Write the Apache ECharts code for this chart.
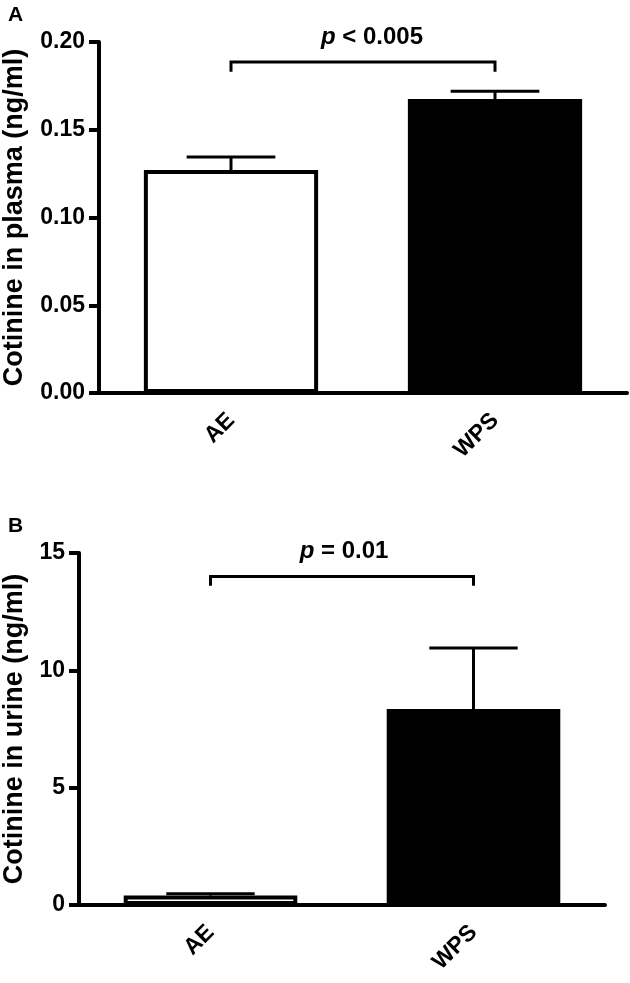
<!DOCTYPE html>
<html>
<head>
<meta charset="utf-8">
<script src="https://cdn.jsdelivr.net/npm/echarts@6/dist/echarts.min.js"></script>
<style>
  html, body { margin: 0; padding: 0; background: #fff; }
  #chart { width: 630px; height: 983px; }
</style>
</head>
<body>
<div id="chart"></div>
<script>
// values (mean + SEM)
const categories = ['AE', 'WPS']
const plasmaMean = [0.127, 0.1675]
const plasmaSem = [0.0075, 0.0045]
const urineMean = [0.4, 8.35]
const urineSem = [0.08, 2.6]
// significance brackets: [from, to, level, foot]
const plasmaBracket = [0, 1, 0.1886, 0.183]
const urineBracket = [0, 1, 14.0, 13.6]
const pTexts = ['< 0.005', '= 0.01']

const FONT = 'Liberation Sans, Arial, sans-serif'
const barColors = ['#fff', '#000']

function barData(means) {
  return means.map(function(v, i) {
    return {
      value: v,
      itemStyle: { color: barColors[i], borderColor: '#000', borderWidth: i === 0 ? 4 : 0 }
    }
  })
}

function errData(means, sems) {
  return means.map(function(v, i) { return [i, v, sems[i]] })
}

function errorBarItem(params, api) {
  const x = api.value(0)
  const m = api.value(1)
  const e = api.value(2)
  const base = api.coord([x, m])
  const top = api.coord([x, m + e])
  const half = api.size([1, 0])[0] * 0.168
  const st = { stroke: '#000', lineWidth: 3 }
  return {
    type: 'group',
    children: [
      { type: 'line', shape: { x1: base[0], y1: base[1], x2: top[0], y2: top[1] }, style: st },
      { type: 'line', shape: { x1: top[0] - half, y1: top[1], x2: top[0] + half, y2: top[1] }, style: st }
    ]
  }
}

function bracketItem(label, dx) {
  return function(params, api) {
    const a = api.coord([api.value(0), api.value(2)])
    const b = api.coord([api.value(1), api.value(2)])
    const foot = api.coord([api.value(0), api.value(3)])[1]
    const st = { stroke: '#000', lineWidth: 3, fill: null }
    return {
      type: 'group',
      children: [
        { type: 'polyline', shape: { points: [[a[0], foot], [a[0], a[1]], [b[0], b[1]], [b[0], foot]] }, style: st },
        {
          type: 'text',
          x: (a[0] + b[0]) / 2 + dx,
          y: a[1] - 25,
          style: {
            text: '{i|p} ' + label,
            align: 'center',
            verticalAlign: 'middle',
            fontFamily: FONT,
            fontWeight: 'bold',
            fontSize: 24,
            fill: '#000',
            rich: { i: { fontStyle: 'italic', fontWeight: 'bold', fontSize: 24, fontFamily: FONT } }
          }
        }
      ]
    }
  }
}

function xAxisFor(idx) {
  return {
    type: 'category',
    gridIndex: idx,
    data: categories,
    axisLine: { lineStyle: { color: '#000', width: 4 } },
    axisTick: { alignWithLabel: true, length: 10, lineStyle: { color: '#000', width: 4 } },
    axisLabel: { rotate: 45, margin: 24, color: '#000', fontFamily: FONT, fontWeight: 'bold', fontSize: 23 }
  }
}

function yAxisFor(idx, name, max, interval, digits, gap) {
  return {
    type: 'value',
    gridIndex: idx,
    min: 0,
    max: max,
    interval: interval,
    name: name,
    nameLocation: 'middle',
    nameGap: gap,
    nameTextStyle: { color: '#000', fontFamily: FONT, fontWeight: 'bold', fontSize: 27 },
    splitLine: { show: false },
    axisLine: { show: true, lineStyle: { color: '#000', width: 4 } },
    axisTick: { show: true, length: 10, lineStyle: { color: '#000', width: 4 } },
    axisLabel: {
      margin: 14,
      color: '#000',
      fontFamily: FONT,
      fontWeight: 'bold',
      fontSize: 23,
      formatter: function(v) { return v.toFixed(digits) }
    }
  }
}

const chart = echarts.init(document.getElementById('chart'))
chart.setOption({
  animation: false,
  backgroundColor: '#fff',
  graphic: [
    { type: 'text', left: 8, top: 5, style: { text: 'A', fontFamily: FONT, fontWeight: 'bold', fontSize: 21, fill: '#000' } },
    { type: 'text', left: 8, top: 516, style: { text: 'B', fontFamily: FONT, fontWeight: 'bold', fontSize: 21, fill: '#000' } }
  ],
  grid: [
    { left: 99, right: 3, top: 42, height: 351, containLabel: false, outerBoundsMode: 'none' },
    { left: 79, right: 25, top: 553, height: 352, containLabel: false, outerBoundsMode: 'none' }
  ],
  xAxis: [xAxisFor(0), xAxisFor(1)],
  yAxis: [
    yAxisFor(0, 'Cotinine in plasma (ng/ml)', 0.2, 0.05, 2, 71),
    yAxisFor(1, 'Cotinine in urine (ng/ml)', 15, 5, 0, 51)
  ],
  series: [
    { type: 'bar', xAxisIndex: 0, yAxisIndex: 0, barWidth: '66%', data: barData(plasmaMean) },
    { type: 'custom', xAxisIndex: 0, yAxisIndex: 0, z: 5, renderItem: errorBarItem, data: errData(plasmaMean, plasmaSem) },
    { type: 'custom', xAxisIndex: 0, yAxisIndex: 0, z: 5, renderItem: bracketItem(pTexts[0], 9), data: [plasmaBracket] },
    { type: 'bar', xAxisIndex: 1, yAxisIndex: 1, barWidth: '66%', data: barData(urineMean) },
    { type: 'custom', xAxisIndex: 1, yAxisIndex: 1, z: 5, renderItem: errorBarItem, data: errData(urineMean, urineSem) },
    { type: 'custom', xAxisIndex: 1, yAxisIndex: 1, z: 5, renderItem: bracketItem(pTexts[1], 2), data: [urineBracket] }
  ]
})
</script>
</body>
</html>
